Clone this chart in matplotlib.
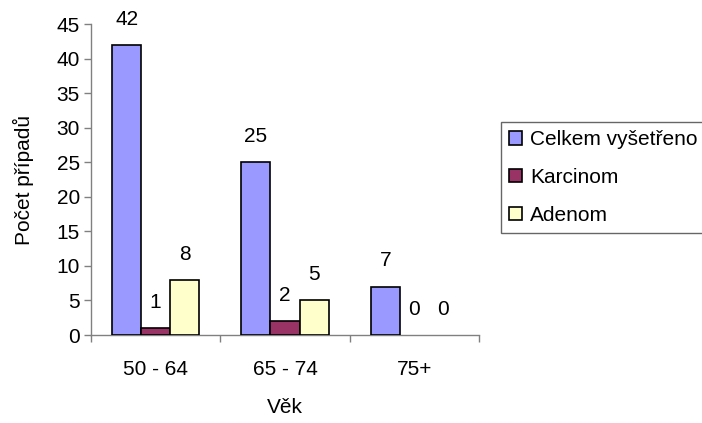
import matplotlib
matplotlib.use("Agg")
import matplotlib.pyplot as plt
import numpy as np

plt.rcParams['font.family'] = ['Liberation Sans', 'DejaVu Sans']

categories = ["50 - 64", "65 - 74", "75+"]
series_names = ["Celkem vyšetřeno", "Karcinom", "Adenom"]
celkem = [42, 25, 7]
karcinom = [1, 2, 0]
adenom = [8, 5, 0]
colors = ["#9999FF", "#993366", "#FFFFCC"]
y_ticks = [0, 5, 10, 15, 20, 25, 30, 35, 40, 45]

FS = 15
W, H = 702, 423
fig = plt.figure(figsize=(W / 100, H / 100), dpi=100)
ax = fig.add_axes([91 / W, 1 - 335 / H, (479 - 91) / W, (335 - 24) / H])

x = np.arange(len(categories))
width = 0.225
series = [celkem, karcinom, adenom]
for i, (vals, name, col) in enumerate(zip(series, series_names, colors)):
    pos = x + (i - 1) * width
    # empty bars get no outline so the axis line stays clean
    lws = [1.2 if v > 0 else 0 for v in vals]
    ax.bar(pos, vals, width, color=col, edgecolor="black", linewidth=lws,
           label=name, zorder=3)
    for p, v in zip(pos, vals):
        ax.annotate(str(v), (p, v), xytext=(0, 18.5), textcoords="offset points",
                    ha="center", va="center", fontsize=FS)

ax.set_xlim(-0.5, 2.5)
ax.set_ylim(0, 45)
ax.set_yticks(y_ticks)
ax.tick_params(axis="y", labelsize=FS, length=5, width=1, color="#808080", pad=3)

# category boundaries as major ticks, labels on minor ticks at centres
ax.set_xticks([-0.5, 0.5, 1.5, 2.5])
ax.set_xticklabels([])
ax.tick_params(axis="x", which="major", length=5, width=1, color="#808080")
ax.set_xticks(x, minor=True)
ax.set_xticklabels(categories, minor=True, fontsize=FS)
ax.tick_params(axis="x", which="minor", length=0, pad=18)

for s in ["top", "right"]:
    ax.spines[s].set_visible(False)
for s in ["left", "bottom"]:
    ax.spines[s].set_color("#808080")
    ax.spines[s].set_linewidth(1)

ax.set_ylabel("Počet případů", fontsize=FS, labelpad=16)
ax.set_xlabel("Věk", fontsize=FS, labelpad=14)

leg = fig.legend(loc="upper left",
                 bbox_to_anchor=(501 / W, 1 - 235 / H, 205 / W, 113 / H),
                 mode="expand", fontsize=FS, frameon=True, fancybox=False,
                 handlelength=0.6, handleheight=0.6, handletextpad=0.4,
                 borderpad=0.4, labelspacing=0.9, borderaxespad=0)
leg.get_frame().set_edgecolor("#404040")
leg.get_frame().set_linewidth(1)

fig.savefig("out.png", dpi=100)
